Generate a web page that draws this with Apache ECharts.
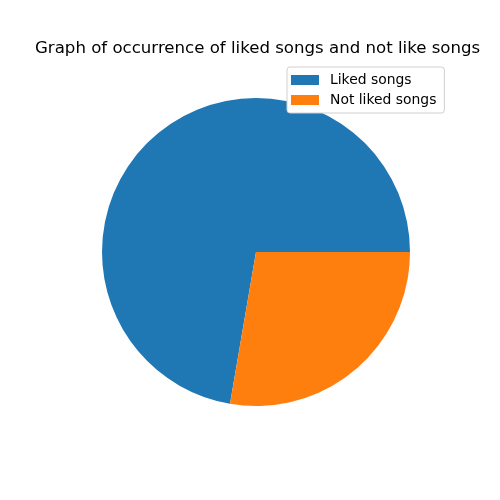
<!DOCTYPE html>
<html>
<head>
<meta charset="utf-8">
<script src="https://cdn.jsdelivr.net/npm/echarts@6/dist/echarts.min.js"></script>
<style>html,body{margin:0;padding:0;background:#fff;}#c{width:500px;height:500px;}</style>
</head>
<body>
<div id="c"></div>
<script>
const categories = ["Liked songs", "Not liked songs"];
const values = [72.3, 27.7];
const colors = ["#1f77b4", "#ff7f0e"];

const chart = echarts.init(document.getElementById('c'), null, {renderer: 'canvas'});
chart.setOption({
  animation: false,
  backgroundColor: '#ffffff',
  title: {
    text: 'Graph of occurrence of liked songs and not like songs',
    left: 30,
    top: 35,
    textStyle: {fontFamily: 'DejaVu Sans', fontSize: 16.6, fontWeight: 'normal', color: '#000'}
  },
  legend: {
    orient: 'vertical',
    left: 287,
    top: 67,
    padding: [6, 8, 6, 4],
    itemWidth: 28,
    itemHeight: 10,
    itemGap: 6,
    icon: 'rect',
    backgroundColor: '#fff',
    borderColor: '#d0d0d0',
    borderWidth: 1,
    borderRadius: 3,
    textStyle: {fontFamily: 'DejaVu Sans', fontSize: 13.9, color: '#000', padding: [0, 0, 0, 6]},
    data: categories
  },
  series: [{
    type: 'pie',
    center: [256, 252],
    radius: [0, 154],
    startAngle: 0,
    clockwise: false,
    label: {show: false},
    labelLine: {show: false},
    emphasis: {disabled: true},
    itemStyle: {borderWidth: 0},
    data: categories.map((c, i) => ({name: c, value: values[i], itemStyle: {color: colors[i]}}))
  }]
});
</script>
</body>
</html>
